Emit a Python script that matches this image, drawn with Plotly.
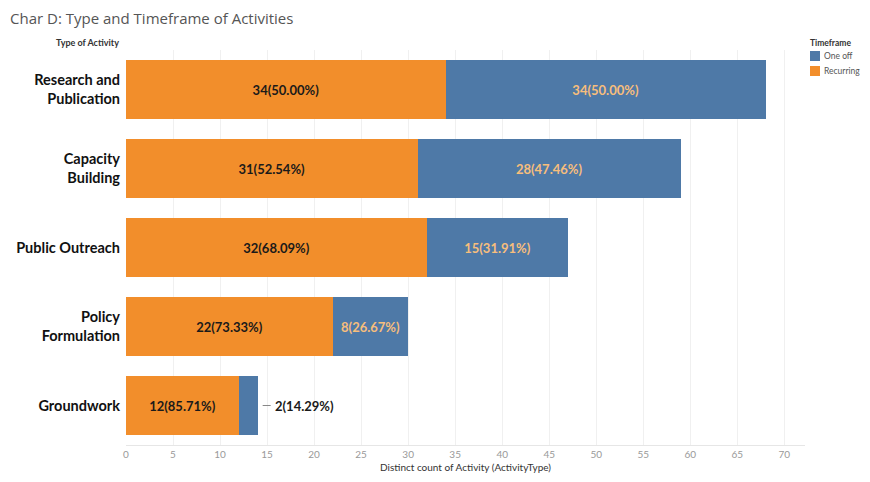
import plotly.graph_objects as go

categories = ['Research and<br>Publication', 'Capacity<br>Building', 'Public Outreach',
              'Policy<br>Formulation', 'Groundwork']
recurring = [34, 31, 32, 22, 12]
one_off = [34, 28, 15, 8, 2]
recurring_pct = ['50.00%', '52.54%', '68.09%', '73.33%', '85.71%']
one_off_pct = ['50.00%', '47.46%', '31.91%', '26.67%', '14.29%']
x_ticks = [0, 5, 10, 15, 20, 25, 30, 35, 40, 45, 50, 55, 60, 65, 70]

# page body has an 8px margin, so the figure is a bit smaller than the window
W, H = 862, 474
L, R, T, B = 118, 65, 42, 37
PW, PH = W - L - R, H - T - B

def px(x):
    return (x - L) / PW

def py(y):
    return 1 - (y - T) / PH

rec_text = ['%d(%s)' % (v, p) for v, p in zip(recurring, recurring_pct)]
one_text = ['%d(%s)' % (v, p) if v > 5 else '' for v, p in zip(one_off, one_off_pct)]
lab_font = dict(size=13, family='Lato', weight='bold')

fig = go.Figure()
fig.add_trace(go.Bar(y=categories, x=recurring, orientation='h', name='Recurring',
                     marker=dict(color='#f28e2b', line=dict(width=0)),
                     text=rec_text, textposition='inside', insidetextanchor='middle',
                     textfont=dict(color='#1a1a1a', **lab_font),
                     width=0.75, showlegend=False))
fig.add_trace(go.Bar(y=categories, x=one_off, orientation='h', name='One off',
                     marker=dict(color='#4e79a7', line=dict(width=0)),
                     text=one_text, textposition='inside', insidetextanchor='middle',
                     textfont=dict(color='#f7be7c', **lab_font),
                     width=0.75, showlegend=False))

# small bars get their label outside with a short leader line
for c, r, o, p in zip(categories, recurring, one_off, one_off_pct):
    if o <= 5:
        fig.add_shape(type='line', xref='x', yref='y', xsizemode='pixel', xanchor=r + o,
                      x0=5, x1=13, y0=c, y1=c, line=dict(color='#888', width=1))
        fig.add_annotation(x=r + o, y=c, text='%d(%s)' % (o, p), showarrow=False,
                           xanchor='left', xshift=15, font=dict(color='#1a1a1a', **lab_font))

# legend built by hand to mimic tableau
legend_items = [('One off', '#4e79a7'), ('Recurring', '#f28e2b')]
fig.add_annotation(xref='paper', yref='paper', x=px(800), y=py(35),
                   text='<b>Timeframe</b>', showarrow=False, xanchor='left', yanchor='middle',
                   font=dict(size=8.5, color='#333', family='Lato'))
for i, (name, col) in enumerate(legend_items):
    yy = 48 + 15 * i
    fig.add_shape(type='rect', xref='paper', yref='paper',
                  x0=px(802), x1=px(812), y0=py(yy + 5), y1=py(yy - 5),
                  fillcolor=col, line=dict(width=0))
    fig.add_annotation(xref='paper', yref='paper', x=px(814), y=py(yy),
                       text=name, showarrow=False, xanchor='left', yanchor='middle',
                       font=dict(size=8.5, color='#555', family='Lato'))

fig.add_annotation(xref='paper', yref='paper', x=px(113), y=py(35),
                   text='<b>Type of Activity</b>', showarrow=False, xanchor='right',
                   yanchor='middle', font=dict(size=9, color='#333', family='Lato'))

fig.update_layout(
    barmode='stack',
    width=W, height=H,
    margin=dict(l=L, r=R, t=T, b=B, autoexpand=False),
    plot_bgcolor='white', paper_bgcolor='white',
    title=dict(text='Char D: Type and Timeframe of Activities', x=2 / W, y=1 - 11 / H,
               xanchor='left', yanchor='middle',
               font=dict(size=15, color='#555', family='Open Sans')),
    xaxis=dict(range=[0, 72.2], tickvals=x_ticks, showgrid=True, gridcolor='#f0f0f0',
               zeroline=False, showline=True, linecolor='#e6e6e6', ticks='',
               automargin=False,
               tickfont=dict(size=10, color='#999', family='Lato'),
               title=dict(text='Distinct count of Activity (ActivityType)', standoff=4,
                          font=dict(size=10, color='#333', family='Lato'))),
    yaxis=dict(autorange='reversed', showgrid=False, zeroline=False, ticks='',
               ticklabelstandoff=5, automargin=False,
               tickfont=dict(size=14.5, color='#111', family='Lato', weight='bold')),
)

fig.write_html("out.html")
